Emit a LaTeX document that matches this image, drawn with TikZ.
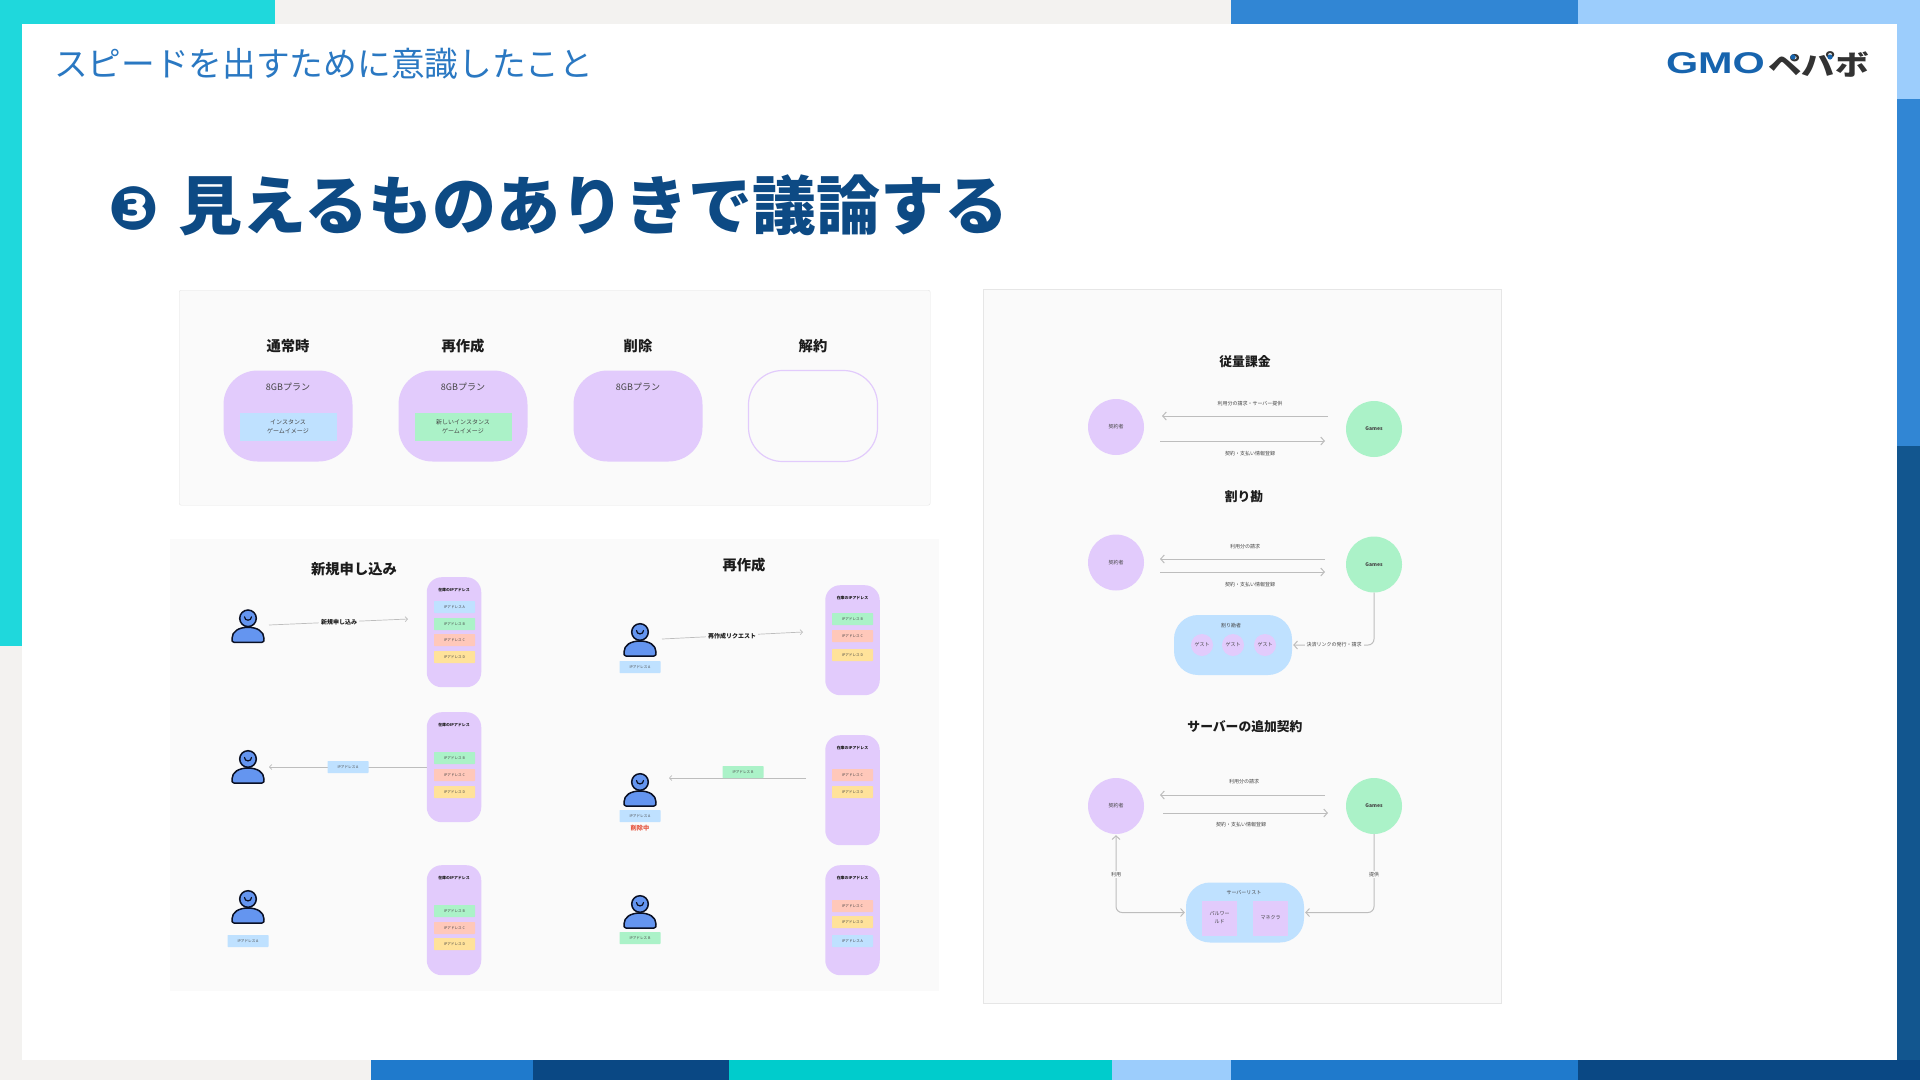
\documentclass[tikz,border=0pt]{standalone}
\usepackage{fontspec}
\setmainfont{Noto Sans CJK JP}
\newfontfamily\symfont{DejaVu Sans}
\newfontfamily\latfont{Liberation Sans}
\usetikzlibrary{arrows.meta}
\definecolor{cTeal}{HTML}{1FD8DC}
\definecolor{cTealB}{HTML}{00CCCC}
\definecolor{cGrayBg}{HTML}{F3F2F0}
\definecolor{cBlue}{HTML}{3186D4}
\definecolor{cBlueM}{HTML}{1F7ACC}
\definecolor{cSky}{HTML}{9CCDFC}
\definecolor{cNavy}{HTML}{12568F}
\definecolor{cNavyB}{HTML}{0A4884}
\definecolor{cTitle}{HTML}{0D4A84}
\definecolor{cSub}{HTML}{2A78C2}
\definecolor{cPanel}{HTML}{FAFAFA}
\definecolor{cEdge}{HTML}{E6E6E6}
\definecolor{cPurple}{HTML}{E2CBFC}
\definecolor{cIpA}{HTML}{BFE1FF}
\definecolor{cIpB}{HTML}{ABF2C8}
\definecolor{cIpC}{HTML}{FFC8BA}
\definecolor{cIpD}{HTML}{FFE29A}
\definecolor{cLine}{HTML}{BDBDBD}
\definecolor{cInk}{HTML}{1C1C1C}
\definecolor{cSoft}{HTML}{444444}
\definecolor{cPerson}{HTML}{6495F0}
\definecolor{cPersonEdge}{HTML}{0A1024}
\definecolor{cRed}{HTML}{E5533D}
\definecolor{cLogo}{HTML}{1764AE}
\definecolor{cLogoK}{HTML}{333333}
\newcommand{\fs}[1]{\fontsize{#1}{#1}\selectfont}
\tikzset{
  txt/.style={inner sep=0pt,outer sep=0pt,align=center},
  head/.style={txt,text=cInk,font=\fs{14.3}\bfseries},
  headb/.style={txt,text=cInk,font=\fs{12.8}\bfseries},
  small/.style={txt,text=cSoft,font=\fs{5}},
  plan/.style={rectangle,rounded corners=34pt,fill=cPurple,minimum width=129pt,minimum height=91pt,inner sep=0pt},
  inner/.style={rectangle,minimum width=97pt,minimum height=28pt,inner sep=0pt,align=center,text=cSoft,font=\fontsize{6}{9}\selectfont},
  stock/.style={rectangle,rounded corners=15pt,fill=cPurple,minimum width=54.5pt,minimum height=110pt,inner sep=0pt},
  ipbox/.style={rectangle,rounded corners=0.7pt,minimum width=41pt,minimum height=12pt,inner sep=0pt,text=cSoft,font=\fs{3.6}},
  stocktitle/.style={txt,text=cInk,font=\fs{3.9}\bfseries},
  conn/.style={draw=cLine,line width=0.7pt,-{Straight Barb[length=2.4pt,width=5pt]}},
  fat/.style={draw=cLine,line width=1pt,-{Straight Barb[length=3.6pt,width=8pt]}},
  fatboth/.style={draw=cLine,line width=1pt,{Straight Barb[length=3.6pt,width=8pt]}-{Straight Barb[length=3.6pt,width=8pt]}},
  role/.style={circle,minimum size=56pt,inner sep=0pt,text=cSoft,font=\fs{5}},
  group/.style={rectangle,rounded corners=24pt,fill=cIpA,minimum width=118pt,minimum height=60pt,inner sep=0pt},
  personicon/.pic={
    \draw[fill=cPerson,draw=cPersonEdge,line width=1.5pt,line join=round]
      (-14,24) .. controls (-16,24) and (-16,22.5) .. (-16,20)
      .. controls (-16,13) and (-9,9) .. (0,9)
      .. controls (9,9) and (16,13) .. (16,20)
      .. controls (16,22.5) and (16,24) .. (14,24) -- cycle;
    \draw[fill=cPerson,draw=cPersonEdge,line width=1.5pt] (0,0) circle[radius=8.3pt];
    \draw[draw=cPersonEdge,line width=1.2pt,line cap=round]
      (-3.5,-1.5) .. controls (-3.5,3) and (3.5,3) .. (3.5,-1.5);
  }
}
\newcommand{\stocklist}[3]{%
  \node[stock,anchor=north] (#1) at (#2,#3) {};
  \node[stocktitle] (#1t) at (#2,#3+13.5) {在庫のIPアドレス};
}
\newcommand{\ip}[5]{\node[ipbox,fill=#4] (#1) at (#2,#3) {IPアドレス #5};}
\begin{document}
\begin{tikzpicture}[x=1pt,y=-1pt]
\useasboundingbox (0,0) rectangle (1920,1080);
% frame
\fill[cGrayBg] (0,0) rectangle (1920,1080);
\fill[cTeal] (0,0) rectangle (275,24);
\fill[cTeal] (0,0) rectangle (22,646);
\fill[cBlue] (1231,0) rectangle (1578,24);
\fill[cSky] (1578,0) rectangle (1920,24);
\fill[cSky] (1897,0) rectangle (1920,99);
\fill[cBlue] (1897,99) rectangle (1920,446);
\fill[cNavy] (1897,446) rectangle (1920,1080);
\fill[cBlueM] (371,1060) rectangle (533,1080);
\fill[cNavyB] (533,1060) rectangle (729,1080);
\fill[cTealB] (729,1060) rectangle (1112,1080);
\fill[cSky] (1112,1060) rectangle (1231,1080);
\fill[cBlueM] (1231,1060) rectangle (1578,1080);
\fill[cNavyB] (1578,1060) rectangle (1920,1080);
\fill[white] (22,24) rectangle (1897,1060);
% header
\node[txt,anchor=west,text=cSub,font=\fs{33.7}] (sub) at (54,64) {スピードを出すために意識したこと};
\node[txt,anchor=west,text=cTitle,font=\fs{64}\bfseries] (title) at (108,205)
  {\makebox[70pt][l]{\symfont\bfseries\fs{60}❸}見えるものありきで議論する};
% logo
\node[txt,anchor=west,text=cLogo] (logoa) at (1666,63) {\scalebox{1.38}[1]{\latfont\bfseries\fs{30}GMO}};
\node[txt,anchor=west,text=cLogoK] (logob) at (1768,64) {\scalebox{1.2}[1]{\bfseries\fs{28}ペパボ}};
\fill[cLogo] (1793,57) circle[radius=2.6pt];
\fill[cLogo] (1830,57) circle[radius=2.6pt];
% panel 1
\node[rectangle,rounded corners=2pt,draw=cEdge,fill=cPanel,minimum width=751pt,minimum height=215pt,anchor=north west,inner sep=0pt] (p1) at (179,290) {};
\node[head] (h1) at (288,346.5) {通常時};
\node[head] (h2) at (463,346.5) {再作成};
\node[head] (h3) at (638,346.5) {削除};
\node[head] (h4) at (813,346.5) {解約};
\node[plan] (b1) at (288,416) {};
\node[plan] (b2) at (463,416) {};
\node[plan] (b3) at (638,416) {};
\node[plan,fill opacity=0,draw=cPurple,draw opacity=1,line width=1.2pt] (b4) at (813,416) {};
\node[txt,text=cSoft,font=\fs{9}] (s1) at (288,387) {8GBプラン};
\node[txt,text=cSoft,font=\fs{9}] (s2) at (463,387) {8GBプラン};
\node[txt,text=cSoft,font=\fs{9}] (s3) at (638,387) {8GBプラン};
\node[inner,fill=cIpA] (i1) at (288,427) {インスタンス\\ゲームイメージ};
\node[inner,fill=cIpB] (i2) at (463,427) {新しいインスタンス\\ゲームイメージ};
% panel 2
\node[rectangle,fill=cPanel,minimum width=769pt,minimum height=452pt,anchor=north west,inner sep=0pt] (p2) at (169.5,538.5) {};
\node[head] (t21) at (354,569.5) {新規申し込み};
\node[head] (t22) at (744,565.5) {再作成};
% left column
\pic at (248,618.3) {personicon};
\coordinate (a1s) at (269,625);
\coordinate (a1e) at (408,619);
\draw[conn] (a1s) -- (a1e);
\node[txt,fill=cPanel,inner xsep=2pt,inner ysep=1pt,text=cInk,font=\fs{6}\bfseries] (l1) at (339,622) {新規申し込み};
\stocklist{L1}{454}{577}
\ip{L1a}{454.5}{607}{cIpA}{A}
\ip{L1b}{454.5}{624}{cIpB}{B}
\ip{L1c}{454.5}{640}{cIpC}{C}
\ip{L1d}{454.5}{657}{cIpD}{D}
\pic at (248,759) {personicon};
\coordinate (a2e) at (269,767);
\stocklist{L2}{454}{712}
\ip{L2b}{454.5}{758}{cIpB}{B}
\ip{L2c}{454.5}{775}{cIpC}{C}
\ip{L2d}{454.5}{792}{cIpD}{D}
\coordinate (a2s) at (L2.west |- a2e);
\draw[conn] (a2s) -- (a2e);
\ip{m2}{348}{767}{cIpA}{A}
\pic at (248,899) {personicon};
\ip{u3}{248}{941}{cIpA}{A}
\stocklist{L3}{454}{865}
\ip{L3b}{454.5}{911}{cIpB}{B}
\ip{L3c}{454.5}{928}{cIpC}{C}
\ip{L3d}{454.5}{944}{cIpD}{D}
% right column
\pic at (640,632) {personicon};
\ip{r1u}{640}{667}{cIpA}{A}
\coordinate (a3s) at (662,639);
\coordinate (a3e) at (803,632);
\draw[conn] (a3s) -- (a3e);
\node[txt,fill=cPanel,inner xsep=2pt,inner ysep=1pt,text=cInk,font=\fs{6}\bfseries] (l3) at (732,636) {再作成リクエスト};
\stocklist{R1}{852.5}{585}
\ip{R1b}{852.5}{619}{cIpB}{B}
\ip{R1c}{852.5}{636}{cIpC}{C}
\ip{R1d}{852.5}{655}{cIpD}{D}
\pic at (640,782) {personicon};
\ip{r2u}{640}{816}{cIpA}{A}
\node[txt,text=cRed,font=\fs{6.2}\bfseries] (del) at (640,828) {削除中};
\stocklist{R2}{852.5}{735}
\ip{R2c}{852.5}{775}{cIpC}{C}
\ip{R2d}{852.5}{792}{cIpD}{D}
\coordinate (a4s) at (806,778);
\coordinate (a4e) at (669,778);
\draw[conn] (a4s) -- (a4e);
\ip{m4}{743}{772}{cIpB}{B}
\pic at (640,904) {personicon};
\ip{r3u}{640}{938}{cIpB}{B}
\stocklist{R3}{852.5}{865}
\ip{R3c}{852.5}{906}{cIpC}{C}
\ip{R3d}{852.5}{922}{cIpD}{D}
\ip{R3a}{852.5}{941}{cIpA}{A}
% panel 3
\node[rectangle,draw=cEdge,fill=cPanel,minimum width=518.5pt,minimum height=714pt,anchor=north west,inner sep=0pt] (p3) at (982.5,289) {};
% 従量課金
\node[headb] (t31) at (1245,361.5) {従量課金};
\node[role,fill=cPurple] (c1) at (1116,427) {契約者};
\node[role,fill=cIpB,font=\fs{5}\bfseries] (g1) at (1374,429) {Games};
\coordinate (e1a) at (1328,416); \coordinate (e1b) at (1162,416);
\coordinate (e1c) at (1160,441); \coordinate (e1d) at (1325,441);
\draw[fat] (e1a) -- (e1b);
\draw[fat] (e1c) -- (e1d);
\node[small] (n1a) at (1250,403.5) {利用分の請求・サーバー提供};
\node[small] (n1b) at (1250,453.5) {契約・支払い情報登録};
% 割り勘
\node[headb] (t32) at (1244,496.5) {割り勘};
\node[role,fill=cPurple] (c2) at (1116,562.5) {契約者};
\node[role,fill=cIpB,font=\fs{5}\bfseries] (g2) at (1374,564.5) {Games};
\coordinate (e2a) at (1325,559); \coordinate (e2b) at (1160,559);
\coordinate (e2c) at (1160,572); \coordinate (e2d) at (1325,572);
\draw[fat] (e2a) -- (e2b);
\draw[fat] (e2c) -- (e2d);
\node[small] (n2a) at (1245,546.5) {利用分の請求};
\node[small] (n2b) at (1250,584.5) {契約・支払い情報登録};
\node[group] (grp2) at (1233,645) {};
\node[small] (grp2t) at (1231,625.5) {割り勘者};
\node[circle,fill=cPurple,minimum size=22pt,inner sep=0pt,text=cSoft,font=\fs{5}] (q1) at (1202,645) {ゲスト};
\node[circle,fill=cPurple,minimum size=22pt,inner sep=0pt,text=cSoft,font=\fs{5}] (q2) at (1233,645) {ゲスト};
\node[circle,fill=cPurple,minimum size=22pt,inner sep=0pt,text=cSoft,font=\fs{5}] (q3) at (1265,645) {ゲスト};
\draw[fat,rounded corners=6pt,shorten >=1pt] (g2.south) |- (grp2.east);
\node[small,fill=cPanel,inner xsep=2pt,inner ysep=1pt] (n2c) at (1334,645) {決済リンクの発行・請求};
% サーバーの追加契約
\node[headb] (t33) at (1245,726.5) {サーバーの追加契約};
\node[role,fill=cPurple] (c3) at (1116,806) {契約者};
\node[role,fill=cIpB,font=\fs{5}\bfseries] (g3) at (1374,806) {Games};
\coordinate (e3a) at (1325,795); \coordinate (e3b) at (1160,795);
\coordinate (e3c) at (1163,813); \coordinate (e3d) at (1328,813);
\draw[fat] (e3a) -- (e3b);
\draw[fat] (e3c) -- (e3d);
\node[small] (n3a) at (1244,781.5) {利用分の請求};
\node[small] (n3b) at (1241,824.5) {契約・支払い情報登録};
\node[group] (grp3) at (1245,912.5) {};
\node[small] (grp3t) at (1244,892.5) {サーバーリスト};
\node[rectangle,fill=cPurple,minimum size=35pt,inner sep=0pt,align=center,text=cSoft,font=\fontsize{5}{8}\selectfont] (v1) at (1219.5,918) {パルワー\\ルド};
\node[rectangle,fill=cPurple,minimum size=35pt,inner sep=0pt,align=center,text=cSoft,font=\fs{5}] (v2) at (1270.5,918) {マネクラ};
\draw[fatboth,rounded corners=6pt,shorten >=1pt,shorten <=1pt] (c3.south) |- (grp3.west);
\draw[fat,rounded corners=6pt,shorten >=1pt] (g3.south) |- (grp3.east);
\node[small,fill=cPanel,inner xsep=1pt,inner ysep=1pt] (n3c) at (1116,874.5) {利用};
\node[small,fill=cPanel,inner xsep=1pt,inner ysep=1pt] (n3d) at (1374,874.5) {提供};
\end{tikzpicture}
\end{document}
